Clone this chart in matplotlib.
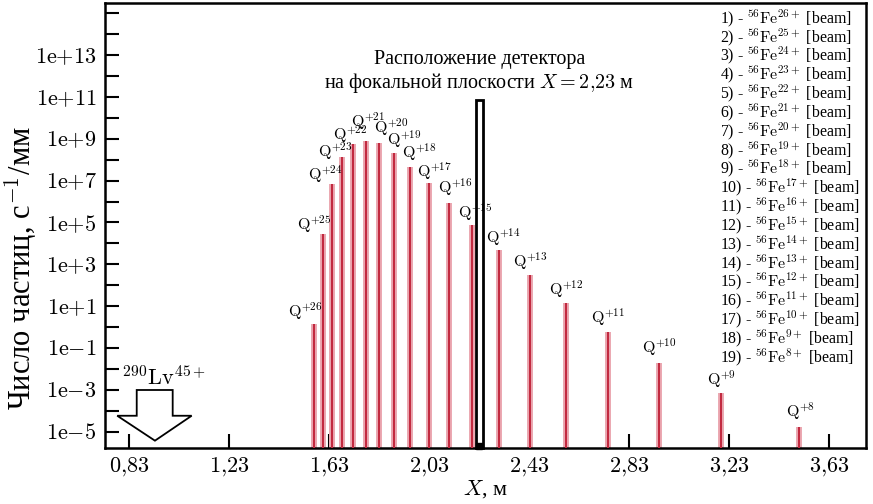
import numpy as np
import matplotlib
matplotlib.use("Agg")
import matplotlib.pyplot as plt
from matplotlib.patches import Polygon, Rectangle
from matplotlib.ticker import FixedLocator, FuncFormatter, NullLocator

plt.rcParams['mathtext.fontset'] = 'cm'
plt.rcParams['font.family'] = ['Liberation Serif', 'DejaVu Serif']

# ---- data ----
charges = [26, 25, 24, 23, 22, 21, 20, 19, 18, 17, 16, 15, 14, 13, 12, 11, 10, 9, 8]
positions = [1.570, 1.604, 1.641, 1.682, 1.726, 1.776, 1.829, 1.888, 1.953, 2.028,
             2.109, 2.203, 2.310, 2.434, 2.578, 2.747, 2.952, 3.200, 3.511]
log_peaks = [0.15, 4.45, 6.84, 8.13, 8.75, 8.91, 8.78, 8.33, 7.67, 6.87,
             5.92, 4.87, 3.69, 2.49, 1.14, -0.24, -1.69, -3.16, -4.75]
peaks = [10 ** v for v in log_peaks]
xticks = [0.83, 1.23, 1.63, 2.03, 2.43, 2.83, 3.23, 3.63]
ytick_exps = list(range(-5, 16))
ylabel_exps = [-5, -3, -1, 1, 3, 5, 7, 9, 11, 13]
detector_x = 2.23
detector_top = 7e10
lv_x = 0.932

# label offsets in pixels (dx, dy) relative to peak top
label_offsets = [(-9, 2), (-9, -1), (-7, -1), (-7, -5), (-3, -1), (2, 9), (12, 5), (11, 3),
                 (9, 4), (6, 1), (6, 5), (3, 2), (4, 2), (0, 3), (0, 3), (0, 4), (0, 5), (0, 3), (1, 5)]

W, H = 873, 504
fig = plt.figure(figsize=(W / 100, H / 100), dpi=100)
ax = fig.add_axes([105 / W, 1 - 448 / H, (866 - 105) / W, (448 - 3) / H])
ax.set_yscale('log')
ylo, yhi = 10 ** -5.77, 10 ** 15.48
ax.set_xlim(0.732, 3.779)
ax.set_ylim(ylo, yhi)

dark = '#c22a40'
light = '#eba9b2'
ax.bar(positions, [p - ylo for p in peaks], bottom=ylo, width=0.024,
       color=light, edgecolor='none', zorder=2)
ax.vlines(positions, ylo, peaks, color=dark, lw=1.5, zorder=3)

for q, x, p, (dx, dy) in zip(charges, positions, peaks, label_offsets):
    ax.annotate(r'$\mathrm{Q}^{+%d}$' % q, xy=(x, p), xytext=(dx, dy),
                textcoords='offset pixels', ha='center', va='bottom', fontsize=11.5, zorder=5)

# detector box
ax.add_patch(Rectangle((detector_x - 0.014, ylo), 0.028, detector_top - ylo,
                       fill=False, edgecolor='black', lw=2, zorder=6, clip_on=False))
ax.plot([detector_x], [ylo * 1.3], marker='s', ms=4, color='black', zorder=7, clip_on=False)
ax.text(detector_x, 10 ** 12.76, 'Расположение детектора', ha='center', va='center', fontsize=14.5)
ax.text(detector_x, 10 ** 11.66, r'на фокальной плоскости $X = 2{,}23$ м', ha='center', va='center', fontsize=14.5)

# Lv arrow
arrow_pts = [(0.859, -3.0), (1.003, -3.0), (1.003, -4.23), (1.079, -4.23),
             (lv_x, -5.42), (0.781, -4.23), (0.859, -4.23)]
ax.add_patch(Polygon([(px, 10 ** py) for px, py in arrow_pts], closed=True,
                     facecolor='white', edgecolor='black', lw=1.3, zorder=6))
ax.text(0.968, 10 ** -3.0, r'$^{290}\mathrm{Lv}^{45+}$', ha='center', va='bottom', fontsize=16)

# legend-like list
for i, q in enumerate(charges):
    ypix = 18 + i * 18.83
    fig.text(720 / W, 1 - ypix / H, r'%d) - $^{56}\mathrm{Fe}^{%d+}$ [beam]' % (i + 1, q),
             ha='left', va='center', fontsize=11.4)

# axes styling
for s in ax.spines.values():
    s.set_linewidth(1.8)
ax.xaxis.set_major_locator(FixedLocator(xticks))
ax.xaxis.set_major_formatter(FuncFormatter(lambda v, p: r'$%s$' % ('%.2f' % v).replace('.', '{,}')))
ax.yaxis.set_major_locator(FixedLocator([10.0 ** e for e in ytick_exps]))
ax.yaxis.set_minor_locator(NullLocator())


def yfmt(v, p):
    e = int(round(np.log10(v)))
    if e not in ylabel_exps:
        return ''
    sign = '+' if e > 0 else '-'
    return r'$\mathrm{1e{%s}%d}$' % (sign, abs(e))


ax.yaxis.set_major_formatter(FuncFormatter(yfmt))
ax.tick_params(direction='in', length=10, width=1.5, labelsize=16, pad=6)
ax.tick_params(axis='x', pad=5)
fig.text(21 / W, 1 - 268 / H, r'Число частиц, с$^{-1}$/мм', rotation=90,
         ha='center', va='center', fontsize=22)
ax.set_xlabel(r'$X$, м', fontsize=16, labelpad=0)

fig.savefig('out.png', dpi=100)
